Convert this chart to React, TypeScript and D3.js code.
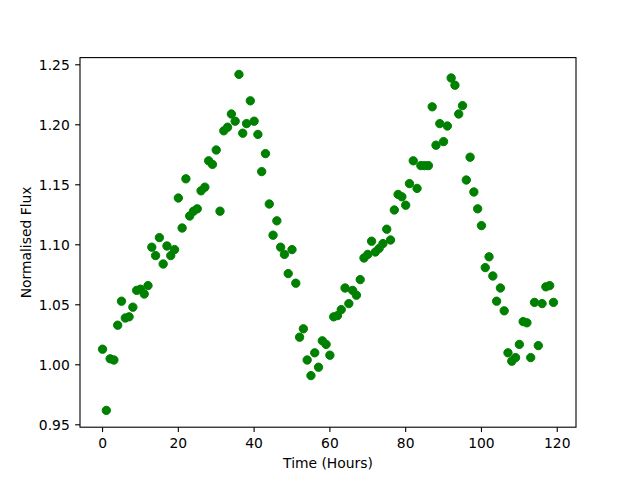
import React from 'react'
import * as d3 from 'd3'

// hourly samples
const hours = [
  0, 1, 2, 3, 4, 5, 6, 7, 8, 9, 10, 11, 12, 13, 14, 15, 16, 17, 18, 19,
  20, 21, 22, 23, 24, 25, 26, 27, 28, 29, 30, 31, 32, 33, 34, 35, 36, 37, 38, 39,
  40, 41, 42, 43, 44, 45, 46, 47, 48, 49, 50, 51, 52, 53, 54, 55, 56, 57, 58, 59,
  60, 61, 62, 63, 64, 65, 66, 67, 68, 69, 70, 71, 72, 73, 74, 75, 76, 77, 78, 79,
  80, 81, 82, 83, 84, 85, 86, 87, 88, 89, 90, 91, 92, 93, 94, 95, 96, 97, 98, 99,
  100, 101, 102, 103, 104, 105, 106, 107, 108, 109, 110, 111, 112, 113, 114, 115, 116, 117, 118, 119,
]

const flux = [
  1.013, 0.962, 1.005, 1.004, 1.033, 1.053, 1.039, 1.040, 1.048, 1.062,
  1.063, 1.059, 1.066, 1.098, 1.091, 1.106, 1.084, 1.099, 1.091, 1.096,
  1.139, 1.114, 1.155, 1.124, 1.128, 1.130, 1.145, 1.148, 1.170, 1.167,
  1.179, 1.128, 1.195, 1.198, 1.209, 1.203, 1.242, 1.193, 1.201, 1.220,
  1.203, 1.192, 1.161, 1.176, 1.134, 1.108, 1.120, 1.098, 1.092, 1.076,
  1.096, 1.068, 1.023, 1.030, 1.004, 0.991, 1.010, 0.998, 1.020, 1.017,
  1.008, 1.040, 1.041, 1.046, 1.064, 1.051, 1.062, 1.058, 1.071, 1.089,
  1.092, 1.103, 1.094, 1.097, 1.101, 1.113, 1.104, 1.129, 1.142, 1.140,
  1.133, 1.151, 1.170, 1.147, 1.166, 1.166, 1.166, 1.215, 1.183, 1.201,
  1.186, 1.199, 1.239, 1.233, 1.209, 1.216, 1.154, 1.173, 1.144, 1.130,
  1.116, 1.081, 1.090, 1.074, 1.053, 1.064, 1.045, 1.010, 1.003, 1.006,
  1.017, 1.036, 1.035, 1.006, 1.052, 1.016, 1.051, 1.065, 1.066, 1.052,
]

const xTicks = [0, 20, 40, 60, 80, 100, 120]
const yTicks = [0.95, 1.0, 1.05, 1.1, 1.15, 1.2, 1.25]

const App = () => {
  const svgRef = React.useRef<SVGSVGElement>(null)
  const width = 640
  const height = 480
  const left = 80
  const right = 576
  const top = 57.6
  const bottom = 427.2
  const font = 'DejaVu Sans, sans-serif'
  const fontSize = 13.89
  const tickLen = 4.86

  React.useEffect(() => {
    document.body.style.margin = '0'
    const svg = d3.select(svgRef.current)
    svg.selectAll('*').remove()

    const pad = (ext: number[]) => {
      const r = ext[1] - ext[0]
      return [ext[0] - r * 0.05, ext[1] + r * 0.05]
    }

    const x = d3.scaleLinear()
      .domain(pad(d3.extent(hours) as number[]))
      .range([left, right])

    const y = d3.scaleLinear()
      .domain(pad(d3.extent(flux) as number[]))
      .range([bottom, top])

    svg.append('rect')
      .attr('width', width)
      .attr('height', height)
      .attr('fill', '#fff')

    svg.append('g')
      .selectAll('circle')
      .data(hours)
      .join('circle')
      .attr('cx', (d) => x(d))
      .attr('cy', (d, i) => y(flux[i]))
      .attr('r', 4.17)
      .attr('fill', '#008000')
      .attr('stroke', '#008000')
      .attr('stroke-width', 1)

    // x ticks
    const gx = svg.append('g')
    gx.selectAll('line')
      .data(xTicks)
      .join('line')
      .attr('x1', (d) => x(d))
      .attr('x2', (d) => x(d))
      .attr('y1', bottom)
      .attr('y2', bottom + tickLen)
      .attr('stroke', '#000')
      .attr('stroke-width', 1.1)
    gx.selectAll('text')
      .data(xTicks)
      .join('text')
      .attr('x', (d) => x(d))
      .attr('y', 448)
      .attr('text-anchor', 'middle')
      .attr('font-family', font)
      .attr('font-size', fontSize)
      .attr('fill', '#000')
      .text((d) => String(d))

    // y ticks
    const gy = svg.append('g')
    gy.selectAll('line')
      .data(yTicks)
      .join('line')
      .attr('x1', left - tickLen)
      .attr('x2', left)
      .attr('y1', (d) => y(d))
      .attr('y2', (d) => y(d))
      .attr('stroke', '#000')
      .attr('stroke-width', 1.1)
    gy.selectAll('text')
      .data(yTicks)
      .join('text')
      .attr('x', left - 2 * tickLen - 0.5)
      .attr('y', (d) => y(d) + 5)
      .attr('text-anchor', 'end')
      .attr('font-family', font)
      .attr('font-size', fontSize)
      .attr('fill', '#000')
      .text((d) => d.toFixed(2))

    // frame
    svg.append('rect')
      .attr('x', left)
      .attr('y', top)
      .attr('width', right - left)
      .attr('height', bottom - top)
      .attr('fill', 'none')
      .attr('stroke', '#000')
      .attr('stroke-width', 1.1)

    svg.append('text')
      .attr('x', (left + right) / 2)
      .attr('y', 468.3)
      .attr('text-anchor', 'middle')
      .attr('font-family', font)
      .attr('font-size', fontSize)
      .attr('fill', '#000')
      .text('Time (Hours)')

    svg.append('text')
      .attr('transform', `translate(30.5, ${(top + bottom) / 2}) rotate(-90)`)
      .attr('text-anchor', 'middle')
      .attr('font-family', font)
      .attr('font-size', fontSize)
      .attr('fill', '#000')
      .text('Normalised Flux')
  }, [])

  return (
    <svg
      ref={svgRef}
      width={width}
      height={height}
      style={{ position: 'absolute', left: 0, top: 0, display: 'block' }}
    />
  )
}

export default App
